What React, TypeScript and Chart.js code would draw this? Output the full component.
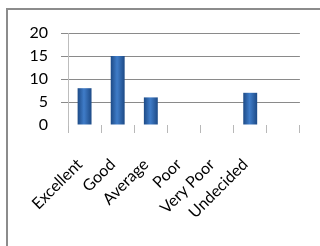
import React, { useEffect, useRef } from "react";
import { Chart, registerables } from "chart.js";

Chart.register(...registerables);

const categories = ["Excellent", "Good", "Average", "Poor", "Very Poor", "Undecided", ""];
const values: (number | null)[] = [8, 15, 6, 0, 0, 7, null];
const yTicks = [0, 5, 10, 15, 20];

export default function App() {
  const ref = useRef<HTMLCanvasElement>(null);
  useEffect(() => {
    if (!ref.current) return;
    const chart = new Chart(ref.current, {
      type: "bar",
      data: {
        labels: categories,
        datasets: [
          {
            data: values,
            barPercentage: 0.42,
            categoryPercentage: 1,
            borderWidth: 0,
            backgroundColor: (ctx: any) => {
              const c = ctx.chart;
              if (!c.chartArea || !c.scales.x) return "#2f62a6";
              const x = c.scales.x.getPixelForValue(ctx.dataIndex);
              const w = 14;
              const g = c.ctx.createLinearGradient(x - w / 2, 0, x + w / 2, 0);
              g.addColorStop(0, "#1d4a86");
              g.addColorStop(0.45, "#3f7cc8");
              g.addColorStop(0.55, "#3a74bd");
              g.addColorStop(1, "#1d4a86");
              return g;
            },
          },
        ],
      },
      options: {
        animation: false,
        responsive: false,
        maintainAspectRatio: false,
        layout: { padding: { top: 33, left: 8, right: 15, bottom: 0 } },
        plugins: { legend: { display: false }, tooltip: { enabled: false } },
        scales: {
          x: {
            grid: {
              offset: true,
              drawOnChartArea: false,
              drawTicks: true,
              tickLength: 8,
              tickColor: "#b8b8b8",
            },
            border: { display: false },
            ticks: {
              minRotation: 45,
              maxRotation: 45,
              autoSkip: false,
              color: "#000",
              padding: 22,
              labelOffset: -5,
              font: { family: "Lato, 'Open Sans', sans-serif", size: 16 },
            },
            afterFit: (s: any) => {
              s.height = 121;
            },
          },
          y: {
            min: 0,
            max: 20,
            afterBuildTicks: (s: any) => {
              s.ticks = yTicks.map((v) => ({ value: v }));
            },
            grid: {
              color: (c: any) => (c.tick && c.tick.value === 0 ? "rgba(0,0,0,0)" : "#8a8a8a"),
              tickColor: (c: any) => (c.tick && c.tick.value === 0 ? "rgba(0,0,0,0)" : "#8a8a8a"),
              tickLength: 7,
            },
            border: { display: true, color: "#bdbdbd", width: 1 },
            ticks: {
              color: "#000",
              padding: 13,
              font: { family: "Lato, 'Open Sans', sans-serif", size: 16 },
            },
            afterFit: (s: any) => {
              s.width = 60;
            },
          },
        },
      },
    });
    return () => chart.destroy();
  }, []);
  return (
    <div style={{ position: "fixed", left: 0, top: 0, width: 320, height: 246, background: "#fff", overflow: "hidden" }}>
      <div
        style={{
          position: "absolute",
          left: 6,
          top: 8,
          width: 400,
          height: 400,
          borderLeft: "2px solid #8c8c8c",
          borderTop: "2px solid #8c8c8c",
        }}
      />
      <canvas ref={ref} width={320} height={246} style={{ position: "absolute", left: 0, top: 0 }} />
    </div>
  );
}
